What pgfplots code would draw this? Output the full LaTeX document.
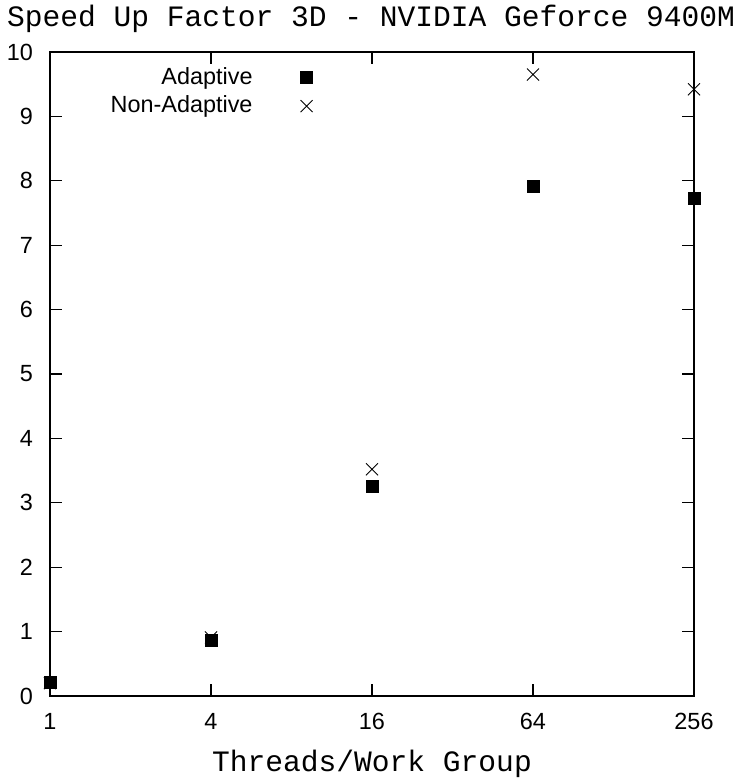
\documentclass[border=0pt]{standalone}
\usepackage{fontspec}
\setmainfont{Liberation Sans}
\newfontfamily\mono{Liberation Mono}
\usepackage{pgfplots}
\pgfplotsset{compat=1.18}

\begin{document}
\begin{tikzpicture}
\begin{axis}[
  scale only axis,
  width=644bp, height=644bp,
  xmode=log, log basis x=2,
  xmin=1, xmax=256, ymin=0, ymax=10,
  xtick={1,4,16,64,256}, xticklabels={1,4,16,64,256},
  ytick={0,1,...,10},
  minor tick num=0,
  /pgf/number format/assume math mode=true,
  ticklabel style={font=\fontsize{23.5}{28}\selectfont, inner sep=0pt},
  xticklabel style={yshift=-17bp},
  yticklabel style={xshift=-17bp},
  tick align=inside,
  major tick length=12bp,
  every tick/.style={black, line width=1.2bp},
  axis line style={line width=1.6bp},
  clip=false,
  xlabel={\mono\fontsize{29.7}{36}\selectfont Threads/Work Group},
  xlabel style={at={(axis description cs:0.5,-0.1165)}, anchor=base, inner sep=0pt, yshift=0pt},
  legend style={draw=none, fill=none, inner sep=0pt, row sep=0pt,
    at={(axis description cs:0.408,0.985)}, anchor=north east,
    font=\fontsize{23.5}{28}\selectfont,
    nodes={inner sep=0pt, text height=17bp, text depth=6bp}},
  legend cell align=right,
  legend plot pos=right,
  legend image code/.code={
    \path[draw=none, fill=none] (0bp,-6bp) rectangle (60bp,17bp);
    \draw[#1] plot coordinates {(54bp,1.2bp)};
  },
]
\addplot[only marks, mark=square*, mark size=6bp, black] coordinates {
  (1,0.21) (4,0.87) (16,3.26) (64,7.92) (256,7.73)
};
\addlegendentry{Adaptive}
\addplot[only marks, mark=x, mark size=8.5bp, black, line width=0.9bp] coordinates {
  (1,0.2) (4,0.91) (16,3.52) (64,9.65) (256,9.42)
};
\addlegendentry{Non-Adaptive}
\node[anchor=base, inner sep=0pt, font=\mono\fontsize{29.7}{36}\selectfont]
  at (axis description cs:0.4985,1.039) {Speed Up Factor 3D - NVIDIA Geforce 9400M};
\end{axis}
\pgfresetboundingbox
\path ([shift={(-50bp,-83bp)}]current axis.south west) rectangle ([shift={(49bp,52bp)}]current axis.north east);
\end{tikzpicture}
\end{document}
